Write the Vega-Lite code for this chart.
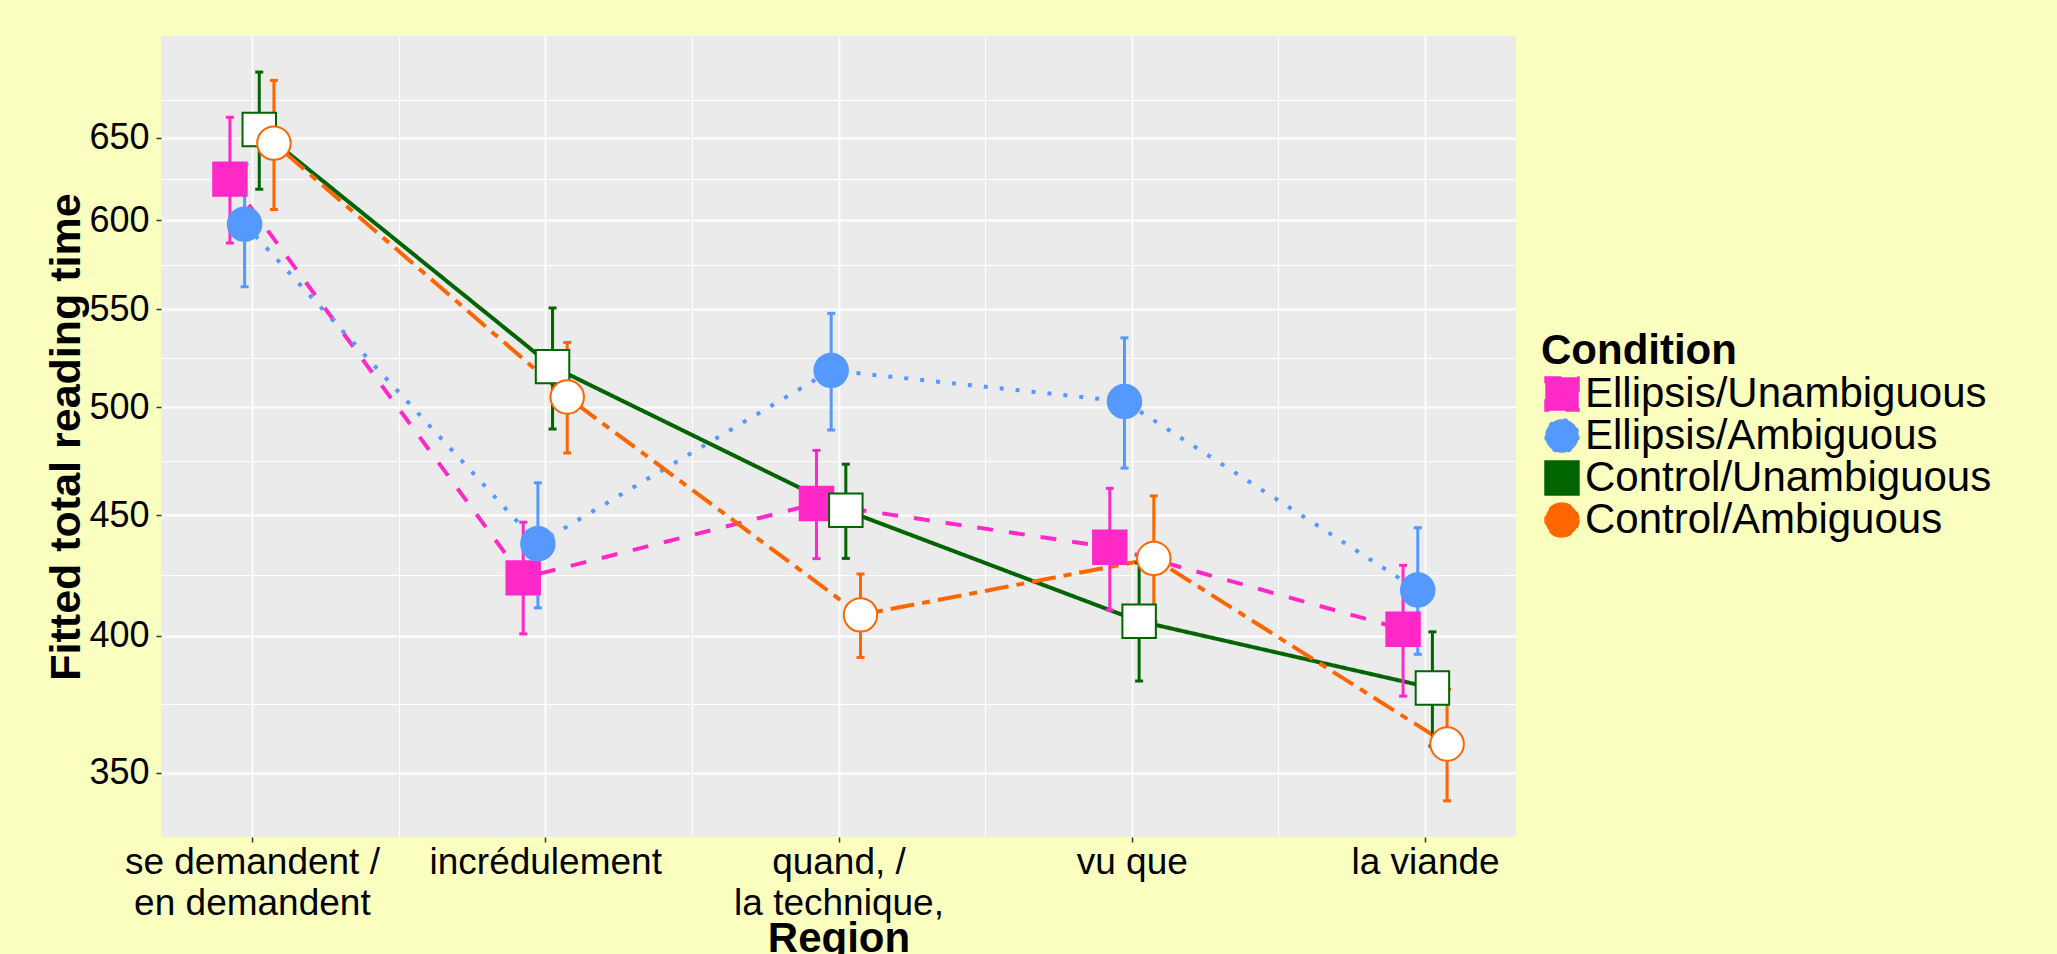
{
  "$schema": "https://vega.github.io/schema/vega-lite/v6.json",
  "width": 1355,
  "height": 801,
  "autosize": {"type": "none"},
  "padding": {"left": 161, "top": 36, "right": 541, "bottom": 117},
  "background": "#FAFFBF",
  "config": {
    "view": {"fill": "#EBEBEB", "stroke": null},
    "font": "Liberation Sans",
    "axis": {
      "labelColor": "#000000",
      "titleColor": "#000000",
      "labelFont": "Liberation Sans",
      "titleFont": "Liberation Sans",
      "tickColor": "#333333",
      "tickWidth": 1.5,
      "tickSize": 5,
      "domain": false,
      "gridColor": "#FFFFFF"
    }
  },
  "data": {
    "values": [
      {"region": "se demandent /\nen demandent", "condition": "Ellipsis/Unambiguous", "rt": 624.4, "lower": 586.7, "upper": 663.2},
      {"region": "se demandent /\nen demandent", "condition": "Ellipsis/Ambiguous", "rt": 597.6, "lower": 562.2, "upper": 633.4},
      {"region": "se demandent /\nen demandent", "condition": "Control/Unambiguous", "rt": 655.3, "lower": 618.3, "upper": 693.1},
      {"region": "se demandent /\nen demandent", "condition": "Control/Ambiguous", "rt": 646.7, "lower": 606.2, "upper": 687.5},
      {"region": "incrédulement", "condition": "Ellipsis/Unambiguous", "rt": 423.3, "lower": 400.8, "upper": 446.9},
      {"region": "incrédulement", "condition": "Ellipsis/Ambiguous", "rt": 437.6, "lower": 411.1, "upper": 464.4},
      {"region": "incrédulement", "condition": "Control/Unambiguous", "rt": 520.1, "lower": 489.4, "upper": 550.7},
      {"region": "incrédulement", "condition": "Control/Ambiguous", "rt": 504.9, "lower": 478.1, "upper": 532.5},
      {"region": "quand, /\nla technique,", "condition": "Ellipsis/Unambiguous", "rt": 455.1, "lower": 431.3, "upper": 479.3},
      {"region": "quand, /\nla technique,", "condition": "Ellipsis/Ambiguous", "rt": 518.2, "lower": 488.9, "upper": 547.8},
      {"region": "quand, /\nla technique,", "condition": "Control/Unambiguous", "rt": 452.1, "lower": 431.4, "upper": 472.9},
      {"region": "quand, /\nla technique,", "condition": "Control/Ambiguous", "rt": 408.3, "lower": 391.7, "upper": 424.9},
      {"region": "vu que", "condition": "Ellipsis/Unambiguous", "rt": 436.1, "lower": 410.2, "upper": 461.9},
      {"region": "vu que", "condition": "Ellipsis/Ambiguous", "rt": 502.7, "lower": 471.1, "upper": 534.9},
      {"region": "vu que", "condition": "Control/Unambiguous", "rt": 405.8, "lower": 382.8, "upper": 429.5},
      {"region": "vu que", "condition": "Control/Ambiguous", "rt": 431.4, "lower": 405.5, "upper": 458.5},
      {"region": "la viande", "condition": "Ellipsis/Unambiguous", "rt": 402.6, "lower": 377.2, "upper": 428.5},
      {"region": "la viande", "condition": "Ellipsis/Ambiguous", "rt": 418.3, "lower": 392.9, "upper": 444.5},
      {"region": "la viande", "condition": "Control/Unambiguous", "rt": 380.2, "lower": 359.3, "upper": 401.6},
      {"region": "la viande", "condition": "Control/Ambiguous", "rt": 360.0, "lower": 340.6, "upper": 379.7}
    ]
  },
  "resolve": {"scale": {"x": "independent"}, "axis": {"x": "independent"}},
  "layer": [
    {
      "mark": {"type": "point", "opacity": 0},
      "encoding": {
        "x": {
          "datum": 3,
          "type": "quantitative",
          "scale": {"domain": [0.69, 5.31], "nice": false, "zero": false},
          "axis": {
            "orient": "top",
            "values": [1, 1.5, 2, 2.5, 3, 3.5, 4, 4.5, 5],
            "labels": false,
            "ticks": false,
            "domain": false,
            "title": null,
            "grid": true,
            "gridColor": "#FFFFFF",
            "gridWidth": {"condition": {"test": "datum.value % 1 != 0", "value": 1}, "value": 1.8}
          }
        }
      }
    },
    {
      "encoding": {
        "x": {
          "field": "region",
          "type": "nominal",
          "scale": {
            "type": "point",
            "domain": ["se demandent /\nen demandent", "incrédulement", "quand, /\nla technique,", "vu que", "la viande"],
            "padding": 0.31
          },
          "axis": {
            "title": "Region",
            "grid": false,
            "labelAngle": 0,
            "labelFontSize": 37,
            "labelExpr": "split(datum.label, '\\n')",
            "labelLineHeight": 41,
            "labelPadding": 2,
            "labelLimit": 500,
            "labelOverlap": false,
            "labelBound": false,
            "titleFontSize": 42,
            "titleFontWeight": "bold",
            "titlePadding": -3
          }
        },
        "xOffset": {
          "field": "condition",
          "type": "nominal",
          "scale": {
            "type": "point",
            "domain": ["Ellipsis/Unambiguous", "Ellipsis/Ambiguous", "Control/Unambiguous", "Control/Ambiguous"],
            "range": [-22, 22],
            "padding": 0
          }
        },
        "stroke": {
          "field": "condition",
          "type": "nominal",
          "title": "Condition",
          "scale": {
            "domain": ["Ellipsis/Unambiguous", "Ellipsis/Ambiguous", "Control/Unambiguous", "Control/Ambiguous"],
            "range": ["#FF29C8", "#5599FF", "#006400", "#FF6600"]
          },
          "legend": {
            "orient": "none",
            "legendX": 1380,
            "legendY": 295,
            "padding": 0,
            "titleFont": "Liberation Sans",
            "titleFontSize": 42,
            "titleFontWeight": "bold",
            "titleColor": "#000000",
            "titlePadding": 0,
            "titleLimit": 600,
            "labelFont": "Liberation Sans",
            "labelFontSize": 42,
            "labelColor": "#000000",
            "labelLimit": 700,
            "labelOffset": 2,
            "rowPadding": 0,
            "symbolSize": 1120,
            "symbolStrokeWidth": 2,
            "symbolFillColor": "#FFFFFF",
            "symbolOpacity": 1
          }
        }
      },
      "layer": [
        {
          "mark": {"type": "line", "strokeWidth": 4},
          "encoding": {
            "y": {
              "field": "rt",
              "type": "quantitative",
              "title": "Fitted total reading time",
              "scale": {"type": "log", "domain": [328.8, 717.9], "nice": false, "zero": false},
              "axis": {
                "values": [350, 374.2, 400, 424.3, 450, 474.3, 500, 524.4, 550, 574.5, 600, 624.5, 650, 674.5],
                "labelExpr": "datum.value % 50 == 0 ? format(datum.value, 'd') : ''",
                "labelFontSize": 36,
                "labelPadding": 7,
                "labelOverlap": false,
                "labelBound": false,
                "titleFontSize": 43,
                "titleFontWeight": "bold",
                "titlePadding": 0,
                "grid": true,
                "gridColor": "#FFFFFF",
                "gridWidth": {"condition": {"test": "datum.value % 50 != 0", "value": 1}, "value": 1.8},
                "tickOpacity": {"condition": {"test": "datum.value % 50 != 0", "value": 0}, "value": 1}
              }
            },
            "strokeDash": {
              "field": "condition",
              "type": "nominal",
              "legend": null,
              "scale": {
                "domain": ["Ellipsis/Unambiguous", "Ellipsis/Ambiguous", "Control/Unambiguous", "Control/Ambiguous"],
                "range": [[16, 16], [4, 12], [1, 0], [8, 8, 24, 8]]
              }
            },
            "order": {"value": null}
          }
        },
        {
          "mark": {"type": "rule", "strokeWidth": 3},
          "encoding": {
            "y": {"field": "lower", "type": "quantitative", "title": "Fitted total reading time"},
            "y2": {"field": "upper"}
          }
        },
        {
          "mark": {"type": "tick", "thickness": 3, "size": 8, "opacity": 1, "strokeWidth": 0},
          "encoding": {
            "y": {"field": "lower", "type": "quantitative", "title": "Fitted total reading time"},
            "color": {
              "field": "condition",
              "type": "nominal",
              "legend": null,
              "scale": {
                "domain": ["Ellipsis/Unambiguous", "Ellipsis/Ambiguous", "Control/Unambiguous", "Control/Ambiguous"],
                "range": ["#FF29C8", "#5599FF", "#006400", "#FF6600"]
              }
            }
          }
        },
        {
          "mark": {"type": "tick", "thickness": 3, "size": 8, "opacity": 1, "strokeWidth": 0},
          "encoding": {
            "y": {"field": "upper", "type": "quantitative", "title": "Fitted total reading time"},
            "color": {
              "field": "condition",
              "type": "nominal",
              "legend": null
            }
          }
        },
        {
          "mark": {"type": "point", "filled": true, "size": 1120, "strokeWidth": 2, "opacity": 1},
          "encoding": {
            "y": {"field": "rt", "type": "quantitative", "title": "Fitted total reading time"},
            "shape": {
              "field": "condition",
              "type": "nominal",
              "title": "Condition",
              "scale": {
                "domain": ["Ellipsis/Unambiguous", "Ellipsis/Ambiguous", "Control/Unambiguous", "Control/Ambiguous"],
                "range": ["square", "circle", "square", "circle"]
              }
            },
            "fill": {
              "field": "condition",
              "type": "nominal",
              "title": "Condition",
              "scale": {
                "domain": ["Ellipsis/Unambiguous", "Ellipsis/Ambiguous", "Control/Unambiguous", "Control/Ambiguous"],
                "range": ["#FF29C8", "#5599FF", "#FFFFFF", "#FFFFFF"]
              }
            }
          }
        }
      ]
    }
  ]
}
